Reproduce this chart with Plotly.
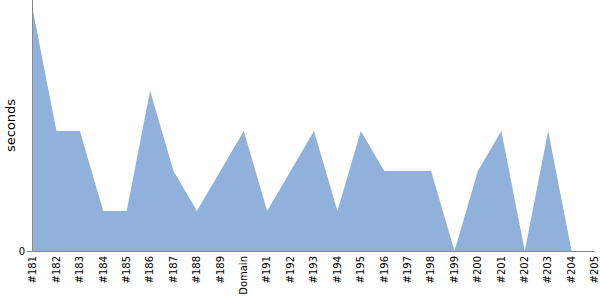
import plotly.graph_objects as go

labels = ["#181", "#182", "#183", "#184", "#185", "#186", "#187", "#188", "#189", "Domain",
          "#191", "#192", "#193", "#194", "#195", "#196", "#197", "#198", "#199", "#200",
          "#201", "#202", "#203", "#204", "#205"]
seconds = [6, 3, 3, 1, 1, 4, 2, 1, 2, 3,
           1, 2, 3, 1, 3, 2, 2, 2, 0, 2,
           3, 0, 3, 0, 0]
y_title = "seconds"

fig = go.Figure()
fig.add_trace(go.Scatter(
    x=list(range(len(labels))), y=seconds, mode="lines", fill="tozeroy",
    line=dict(width=0, color="#8fb1db"), fillcolor="#8fb1db",
    hoverinfo="skip", showlegend=False,
))
fig.update_layout(
    width=600, height=300,
    margin=dict(l=33, r=5, t=0, b=49),
    paper_bgcolor="white", plot_bgcolor="white",
    font=dict(family="DejaVu Sans", size=10, color="black"),
)
fig.add_annotation(
    text=y_title, textangle=-90, xref="paper", yref="paper",
    x=(10.5 - 33) / 562, y=0.5, xanchor="center", yanchor="middle",
    showarrow=False, font=dict(size=13, family="DejaVu Sans", color="black"),
)
fig.update_xaxes(
    tickmode="array", tickvals=list(range(len(labels))), ticktext=labels,
    tickangle=-90, range=[-0.0001, len(labels) - 1 + 0.0001], showgrid=False, zeroline=False,
    showline=True, linecolor="#888888", linewidth=1, ticks="", tickfont=dict(size=10),
    ticklabeloverflow="allow",
)
fig.update_yaxes(
    range=[0, 6.27], tickmode="array", tickvals=[0], ticktext=["0"],
    showgrid=False, zeroline=False, showline=True, linecolor="#888888", linewidth=1,
    ticks="outside", ticklen=5, tickcolor="#888888", tickfont=dict(size=10),
)
fig.write_html("out.html")
